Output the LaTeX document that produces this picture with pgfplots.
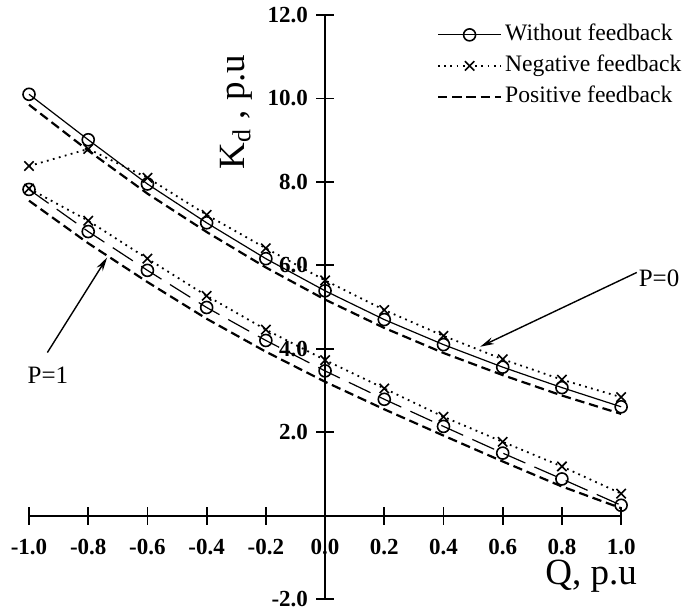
\documentclass[border=0pt]{standalone}
\usepackage{fontspec}
\setmainfont{Liberation Serif}
\usepackage{pgfplots}
\usepackage{pgfplotstable}
\pgfplotsset{compat=1.18}
\usetikzlibrary{arrows.meta}

\pgfplotstableread{
q    a0     n0    p0    a1    n1    p1
-1.0 10.10  8.38  9.85  7.82  7.84  7.55
-0.8  9.01  8.79  8.75  6.81  7.07  6.53
-0.6  7.95  8.10  7.72  5.88  6.16  5.60
-0.4  7.02  7.21  6.80  4.99  5.27  4.72
-0.2  6.16  6.41  5.95  4.20  4.46  3.93
 0.0  5.39  5.64  5.18  3.47  3.73  3.21
 0.2  4.70  4.93  4.50  2.79  3.05  2.55
 0.4  4.10  4.31  3.90  2.14  2.37  1.92
 0.6  3.56  3.75  3.37  1.50  1.77  1.30
 0.8  3.07  3.26  2.88  0.88  1.18  0.70
 1.0  2.61  2.84  2.44  0.25  0.53  0.18
}\datatab

\begin{document}
\begin{tikzpicture}
\begin{axis}[
  scale only axis,
  width=296pt, height=292pt,
  xmin=-1, xmax=1, ymin=-2, ymax=12,
  axis lines=middle,
  axis line style={-, line width=1pt},
  clip=false,
  xtick={-1,-0.8,-0.6,-0.4,-0.2,0,0.2,0.4,0.6,0.8,1},
  ytick={-2,2,4,6,8,10,12},
  hide obscured x ticks=false,
  hide obscured y ticks=false,
  tick align=center,
  major tick length=9pt,
  tick style={line width=0.9pt, black},
  /pgf/number format/assume math mode=true,
  xticklabel style={/pgf/number format/.cd, fixed, fixed zerofill, precision=1, /tikz/.cd,
     font=\bfseries\fontsize{11.5}{13}\selectfont, yshift=-3.5pt},
  yticklabel style={/pgf/number format/.cd, fixed, fixed zerofill, precision=1, /tikz/.cd,
     font=\bfseries\fontsize{11.5}{13}\selectfont, xshift=-0.5pt},
  legend cell align=left,
  legend style={at={(axis cs:0.378,11.86)}, anchor=north west, draw=none, fill=none,
     inner sep=0pt, outer sep=0pt, row sep=1.5pt,
     font=\fontsize{11.8}{13}\selectfont,
     nodes={inner sep=1.5pt, text height=8.5pt, text depth=2.5pt, anchor=west}},
  legend image code/.code={\draw[mark repeat=2,mark phase=2,#1] plot coordinates {(0pt,0pt) (15.75pt,0pt) (31.5pt,0pt)};},
]
% P = 0
\addplot[black, line width=0.6pt, mark=o, mark size=3pt, mark options={solid, line width=0.8pt}]
  table[x=q, y=a0] {\datatab};
\addlegendentry{Without feedback}
\addplot[black, line width=0.9pt, dash pattern=on 0.9pt off 2.2pt, mark=x, mark size=3.3pt, mark options={solid, line width=0.8pt}]
  table[x=q, y=n0] {\datatab};
\addlegendentry{Negative feedback}
\addplot[black, line width=1.1pt, dash pattern=on 4.7pt off 2.4pt]
  table[x=q, y=p0] {\datatab};
\addlegendentry{Positive feedback}
% P = 1
\addplot[forget plot, black, line width=0.6pt, dash pattern=on 12pt off 5pt, mark=o, mark size=3pt, mark options={solid, line width=0.8pt}]
  table[x=q, y=a1] {\datatab};
\addplot[forget plot, black, line width=0.9pt, dash pattern=on 0.9pt off 2.2pt, mark=x, mark size=3.3pt, mark options={solid, line width=0.8pt}]
  table[x=q, y=n1] {\datatab};
\addplot[forget plot, black, line width=1.1pt, dash pattern=on 4.7pt off 2.4pt]
  table[x=q, y=p1] {\datatab};

% annotations
\node[font=\fontsize{12.5}{14}\selectfont, inner sep=0pt] at (axis cs:1.128,5.70) {P=0};
\draw[-{Stealth[length=7pt,width=3.5pt]}, line width=0.7pt] (axis cs:1.053,5.83) -- (axis cs:0.524,4.05);
\node[font=\fontsize{12.5}{14}\selectfont, inner sep=0pt] at (axis cs:-0.936,3.37) {P=1};
\draw[-{Stealth[length=7pt,width=3.5pt]}, line width=0.7pt] (axis cs:-0.938,3.91) -- (axis cs:-0.736,6.19);

% axis labels
\node[rotate=90, font=\fontsize{18.5}{20}\selectfont, inner sep=0pt] at (axis cs:-0.30,9.675) {K\textsubscript{d} , p.u};
\node[anchor=base, font=\fontsize{18.5}{20}\selectfont, inner sep=0pt] at (axis cs:0.899,-1.66) {Q, p.u};

\coordinate (bbsw) at (axis cs:-1.098,-2.24);
\coordinate (bbne) at (axis cs:1.209,12.36);
\end{axis}
\pgfresetboundingbox
\path[use as bounding box] (bbsw) rectangle (bbne);
\end{tikzpicture}
\end{document}
